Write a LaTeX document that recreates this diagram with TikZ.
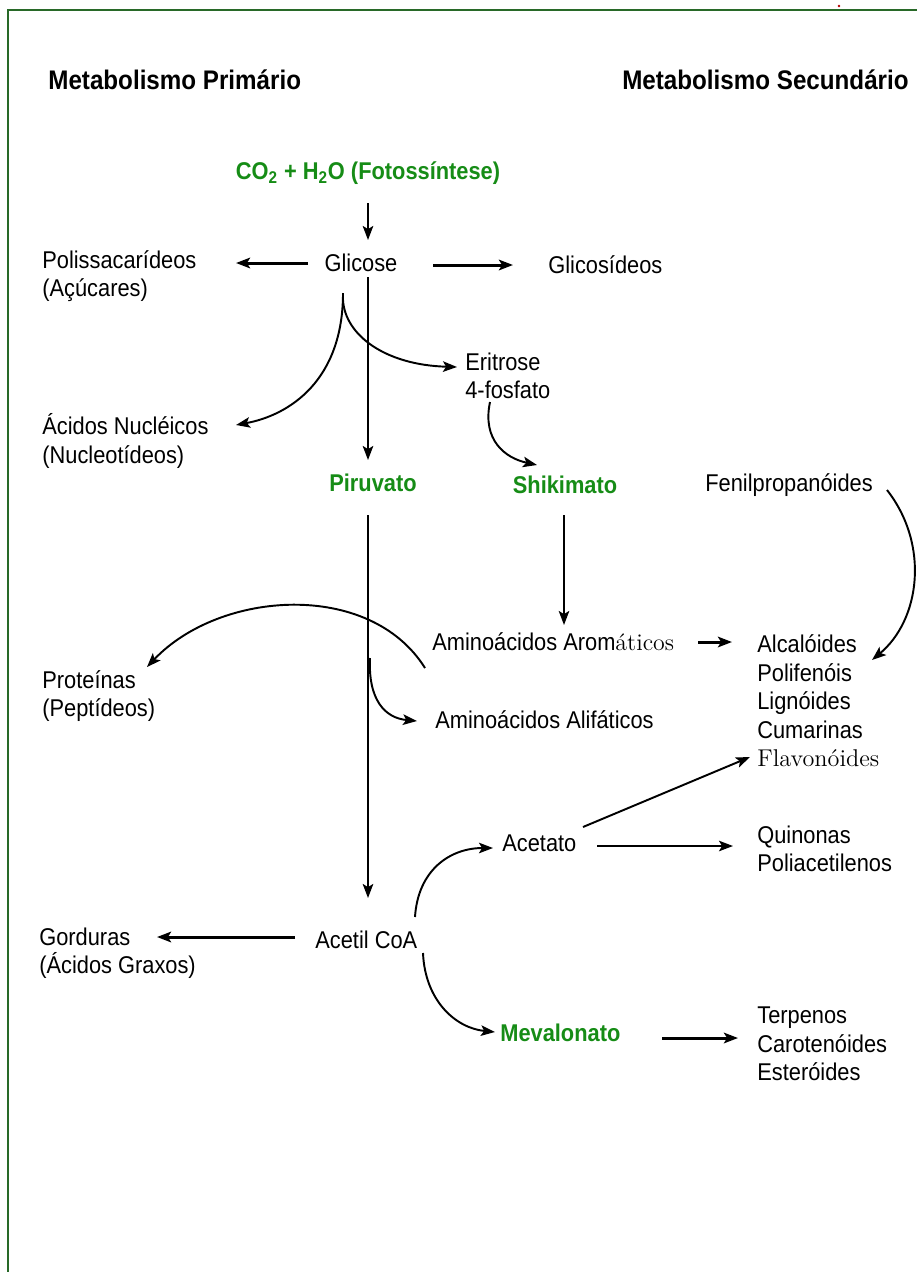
\documentclass[tikz,border=0pt]{standalone}
\usepackage{fontspec}
\setsansfont{Liberation Sans}[FakeStretch=0.9]
\usetikzlibrary{arrows.meta,calc}
\definecolor{verde}{RGB}{22,140,22}
\definecolor{moldura}{RGB}{40,105,40}
\begin{document}
\begin{tikzpicture}[x=0.02cm,y=-0.02cm,
  txt/.style={inner sep=0pt,align=left,font=\sffamily\fontsize{13.8}{16.2}\selectfont},
  titulo/.style={inner sep=0pt,font=\sffamily\bfseries\fontsize{15.3}{17}\selectfont},
  verdebox/.style={inner sep=0pt,text=verde,font=\sffamily\bfseries\fontsize{13.8}{15}\selectfont},
  seta/.style={line width=1.1pt,-{Stealth[length=8pt,width=6pt,inset=1.8pt]}},
  setagrossa/.style={seta,line width=1.7pt}]
\useasboundingbox (0,0) rectangle (917,1272);
\draw[moldura,line width=1pt] (8,1272) -- (8,10) -- (917,10);
\fill[red!70!black] (839,6) circle (1.3);
\node[titulo,anchor=west] (hprim) at (48,80) {Metabolismo Primário};
\node[titulo,anchor=east] (hsec) at (909,80) {Metabolismo Secundário};
\node[verdebox] (co2) at (368,173) {CO\textsubscript{2} + H\textsubscript{2}O (Fotossíntese)};
\node[txt] (glicose) at (361,263) {Glicose};
\node[txt,anchor=west] (polis) at (42,276) {Polissacarídeos\\(Açúcares)};
\node[txt,anchor=west] (glicos) at (548,265) {Glicosídeos};
\node[txt,anchor=west] (eritrose) at (465,376) {Eritrose\\4-fosfato};
\node[txt,anchor=west] (acidos) at (42,441) {Ácidos Nucléicos\\(Nucleotídeos)};
\node[verdebox] (piruvato) at (373,483) {Piruvato};
\node[verdebox] (shikimato) at (565,485) {Shikimato};
\node[txt,anchor=west] (fenil) at (705,485) {Fenilpropanóides};
\node[txt,anchor=west] (aromat) at (432,642) {Aminoácidos Arom{\rmfamily\fontsize{13.6}{16.2}\selectfont áticos}};
\node[txt,anchor=west] (alifat) at (435,720) {Aminoácidos Alifáticos};
\node[txt,anchor=west] (sec) at (757,701) {Alcalóides\\Polifenóis\\Lignóides\\Cumarinas\\{\rmfamily Flavonóides}};
\node[txt,anchor=west] (prot) at (42,696) {Proteínas\\(Peptídeos)};
\node[txt,anchor=west] (acetato) at (502,843) {Acetato};
\node[txt,anchor=west] (quin) at (757,849) {Quinonas\\Poliacetilenos};
\node[txt,anchor=west] (acetil) at (315,940) {Acetil CoA};
\node[txt,anchor=west] (gord) at (39,953) {Gorduras\\(Ácidos Graxos)};
\node[verdebox,anchor=west] (mevalonato) at (500,1033) {Mevalonato};
\node[txt,anchor=west] (terp) at (757,1044) {Terpenos\\Carotenóides\\Esteróides};
\draw[seta] ($(co2)+(0,30)$) -- ($(glicose)+(7,-23)$);
\draw[setagrossa] ($(glicose)+(-53,0)$) -- ($(polis.west)+(194,-13)$);
\draw[setagrossa] ($(glicose)+(72,2)$) -- ($(glicos.west)+(-35,0)$);
\draw[seta] ($(glicose)+(7,14)$) -- ($(piruvato)+(-5,-23)$);
\draw[seta] ($(glicose)+(-18,30)$) .. controls (343,380) and (290,415) .. ($(acidos.west)+(194,-16)$);
\draw[seta] ($(glicose)+(-18,37)$) .. controls (345,335) and (385,365) .. ($(eritrose.west)+(-8,-9)$);
\draw[seta] ($(eritrose.west)+(25,26)$) .. controls (482,440) and (505,458) .. ($(shikimato)+(-28,-20)$);
\draw[seta] ($(piruvato)+(-5,32)$) -- ($(acetil.west)+(53,-42)$);
\draw[seta] ($(shikimato)+(-1,30)$) -- ($(aromat.west)+(132,-17)$);
\draw[setagrossa] ($(aromat.west)+(266,0)$) -- ($(sec.west)+(-25,-59)$);
\draw[seta] ($(aromat.west)+(-7,26)$) .. controls (370,580) and (220,590) .. ($(prot.west)+(105,-29)$);
\draw[seta] ($(piruvato)+(-3,175)$) .. controls (368,700) and (385,718) .. ($(alifat.west)+(-18,1)$);
\draw[seta] ($(fenil.west)+(182,5)$) .. controls (930,545) and (920,620) .. ($(sec.west)+(115,-41)$);
\draw[seta] ($(acetato.west)+(81,-16)$) -- ($(sec.west)+(-7,56)$);
\draw[seta,line width=0.9pt] ($(acetato.west)+(95,3)$) -- ($(quin.west)+(-24,-3)$);
\draw[setagrossa] ($(acetil.west)+(-20,-3)$) -- ($(gord.west)+(118,-16)$);
\draw[seta] ($(acetil.west)+(100,-23)$) .. controls (418,870) and (450,848) .. ($(acetato.west)+(-9,5)$);
\draw[seta] ($(acetil.west)+(108,13)$) .. controls (425,1000) and (455,1028) .. ($(mevalonato.west)+(-5,-1)$);
\draw[setagrossa] ($(mevalonato.west)+(162,5)$) -- ($(terp.west)+(-19,-6)$);
\end{tikzpicture}
\end{document}
